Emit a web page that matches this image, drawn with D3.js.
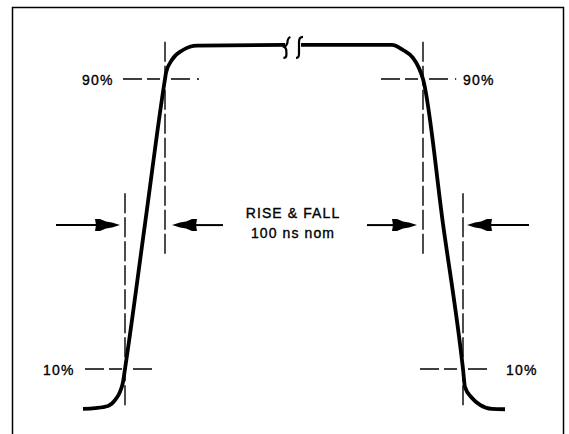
<!DOCTYPE html>
<html>
<head>
<meta charset="utf-8">
<script src="https://cdn.jsdelivr.net/npm/d3@7"></script>
<style>
  html, body { margin: 0; padding: 0; background: #fff; }
  svg { display: block; }
  text { font-family: "Liberation Sans", Arial, sans-serif; fill: #000; stroke: #000; stroke-width: 0.35; }
</style>
</head>
<body>
<div id="chart"></div>
<script>
// ---- Data (time in ns, level in % of full swing) ----
const levels = [10, 90];
const levelLabels = ["10%", "90%"];

// rising edge (t, v)
const riseT = [-105, -75, -42.5, -25, -12.5, -5, 0, 50, 100, 102.5, 117.5, 145, 180, 400];
const riseV = [-1.0, -0.8, -0.2, 1.4, 3.7, 6.4, 10, 50, 90, 91.7, 95.3, 98.0, 99.2, 99.4];

// falling edge (t, v)
const fallT = [440, 667.5, 695, 720, 735, 745, 795, 845, 850, 867.5, 887.5, 917.5, 950];
const fallV = [99.4, 99.4, 98.0, 95.8, 93.0, 90, 50, 10, 5.0, 2.0, 0.1, -1.0, -1.1];

// crossing times of the 10% / 90% levels
const riseCross = [0, 100];
const fallCross = [845, 745];

// axis break positions on the top flat
const breakT = [406, 435];

const annotation = ["RISE & FALL", "100 ns nom"];

// ---- Layout ----
const W = 569, H = 434;
const svg = d3.select("#chart").append("svg").attr("width", W).attr("height", H);

const x = d3.scaleLinear().domain([0, 100]).range([125, 165]);
const y = d3.scaleLinear().domain([10, 90]).range([369, 79]);

// frame (open at the bottom)
svg.append("rect")
  .attr("x", 12.5).attr("y", 7.5).attr("width", 551).attr("height", 480)
  .attr("fill", "none").attr("stroke", "#000").attr("stroke-width", 1.5);

const dashH = "19,5,13,11,19,7,2";
const dashV = "20,4";

// horizontal level reference lines
const hLines = [
  { v: levels[0], t0: -100, t1: 70 },
  { v: levels[1], t0: -5, t1: 187.5 },
  { v: levels[1], t0: 640, t1: 828 },
  { v: levels[0], t0: 737.5, t1: 905 }
];
svg.selectAll(".hl").data(hLines).enter().append("line")
  .attr("x1", d => x(d.t0)).attr("x2", d => x(d.t1))
  .attr("y1", d => y(d.v)).attr("y2", d => y(d.v))
  .attr("stroke", "#000").attr("stroke-width", 1.4)
  .attr("stroke-dasharray", dashH);

// vertical crossing reference lines
const vLines = [
  { t: riseCross[0], v0: 0, v1: 58.5 },
  { t: riseCross[1], v0: 41.5, v1: 100.3 },
  { t: fallCross[1], v0: 41.5, v1: 100.3 },
  { t: fallCross[0], v0: 0, v1: 58.5 }
];
svg.selectAll(".vl").data(vLines).enter().append("line")
  .attr("x1", d => x(d.t)).attr("x2", d => x(d.t))
  .attr("y1", d => y(d.v1)).attr("y2", d => y(d.v0))
  .attr("stroke", "#000").attr("stroke-width", 1.4)
  .attr("stroke-dasharray", dashV);

// waveform
const line = d3.line().x(d => x(d[0])).y(d => y(d[1])).curve(d3.curveMonotoneX);
const rise = riseT.map((t, i) => [t, riseV[i]]);
const fall = fallT.map((t, i) => [t, fallV[i]]);
[rise, fall].forEach(seg => {
  svg.append("path").attr("d", line(seg))
    .attr("fill", "none").attr("stroke", "#000")
    .attr("stroke-width", 3.8).attr("stroke-linejoin", "round").attr("stroke-linecap", "butt");
});

// break squiggles
const topY = y(99.4);
breakT.forEach((t, i) => {
  const cx = x(t);
  const p = d3.path();
  if (i === 0) {
    p.moveTo(cx + 3, topY - 8);
    p.quadraticCurveTo(cx, topY - 7, cx, topY - 2);
    p.quadraticCurveTo(cx - 1, topY + 1, cx - 3, topY + 2);
    p.quadraticCurveTo(cx - 1, topY + 3, cx - 1, topY + 7);
    p.lineTo(cx - 1, topY + 10);
    p.quadraticCurveTo(cx - 1, topY + 13, cx - 4, topY + 13);
  } else {
    p.moveTo(cx + 4, topY - 8);
    p.quadraticCurveTo(cx, topY - 8, cx, topY - 3);
    p.lineTo(cx, topY + 9);
    p.quadraticCurveTo(cx, topY + 13, cx - 3, topY + 13);
  }
  svg.append("path").attr("d", p.toString())
    .attr("fill", "none").attr("stroke", "#000").attr("stroke-width", 2.2);
});

// arrows (tip time, tail time, at level 50%)
const arrows = [
  { tip: -12.5, tail: -172.5 },
  { tip: 117.5, tail: 245 },
  { tip: 730, tail: 605 },
  { tip: 855, tail: 1010 }
];
const arrowV = 49.7;
arrows.forEach(a => {
  const xt = x(a.tip), xs = x(a.tail), yy = y(arrowV);
  const dir = xt > xs ? 1 : -1;
  svg.append("line")
    .attr("x1", xs).attr("x2", xt - dir * 20).attr("y1", yy).attr("y2", yy)
    .attr("stroke", "#000").attr("stroke-width", 2);
  const head = [[0, 0], [-8, -2.5], [-14, -3.5], [-20, -6], [-25, -6], [-24, 0], [-25, 6], [-20, 6], [-14, 3.5], [-8, 2.5]];
  svg.append("polygon")
    .attr("points", head.map(p => [xt + dir * p[0], yy + p[1]].join(",")).join(" "))
    .attr("fill", "#000");
});

// level labels
const labels = [
  { text: levelLabels[1], x: 82, v: levels[1] },
  { text: levelLabels[1], x: 463, v: levels[1] },
  { text: levelLabels[0], x: 43, v: levels[0] },
  { text: levelLabels[0], x: 506, v: levels[0] }
];
svg.selectAll(".lbl").data(labels).enter().append("text")
  .attr("x", d => d.x).attr("y", d => y(d.v) + 6)
  .attr("font-size", 14).attr("letter-spacing", 1.2)
  .text(d => d.text);

// annotation
annotation.forEach((s, i) => {
  svg.append("text")
    .attr("x", 293).attr("y", 218 + i * 20)
    .attr("text-anchor", "middle")
    .attr("font-size", 14).attr("letter-spacing", 1.1)
    .text(s);
});
</script>
</body>
</html>
